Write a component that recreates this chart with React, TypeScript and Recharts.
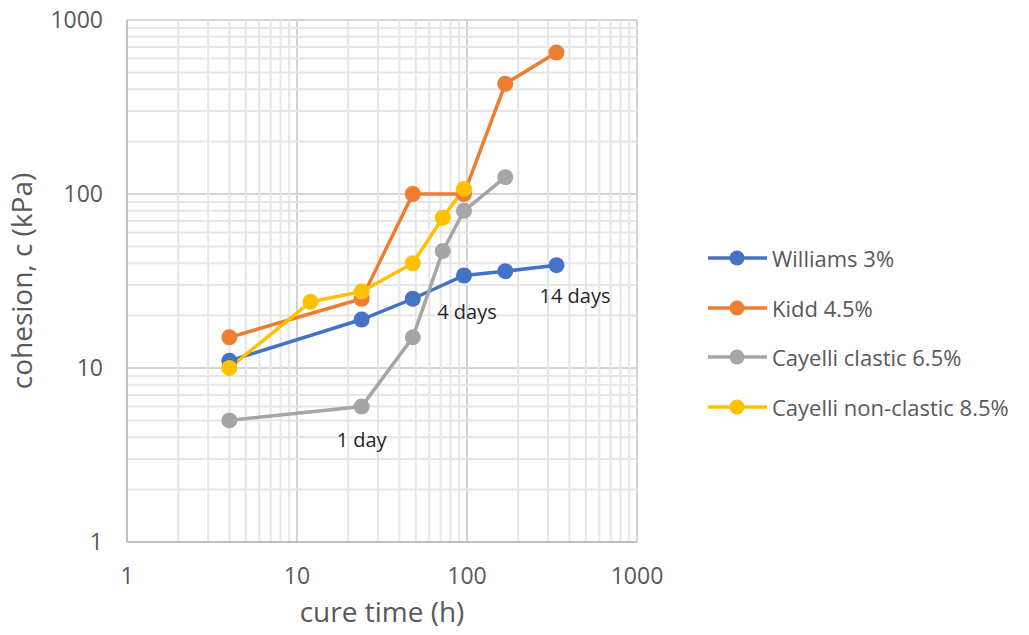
import React from "react";
import {
  LineChart,
  Line,
  XAxis,
  YAxis,
  CartesianGrid,
  ReferenceLine,
  ReferenceDot,
  Label,
} from "recharts";

const majorTicks = [1, 10, 100, 1000];
const minorTicks = [2, 3, 4, 5, 6, 7, 8, 9, 20, 30, 40, 50, 60, 70, 80, 90, 200, 300, 400, 500, 600, 700, 800, 900];

const williamsHours = [4, 24, 48, 96, 168, 336];
const williamsCohesion = [11, 19, 25, 34, 36, 39];

const kiddHours = [4, 24, 48, 96, 168, 336];
const kiddCohesion = [15, 25, 100, 100, 430, 650];

const clasticHours = [4, 24, 48, 72, 96, 168];
const clasticCohesion = [5, 6, 15, 47, 80, 125];

const nonClasticHours = [4, 12, 24, 48, 72, 96];
const nonClasticCohesion = [10, 24, 27.5, 40, 73, 107];

const seriesNames = ["Williams 3%", "Kidd 4.5%", "Cayelli clastic 6.5%", "Cayelli non-clastic 8.5%"];
const seriesColors = ["#4472C4", "#ED7D31", "#A5A5A5", "#FFC000"];

const notes = ["1 day", "4 days", "14 days"];
const noteHours = [24, 100, 432];
const noteCohesion = [3.86, 21, 25.9];

const zip = (xs: number[], ys: number[]) => xs.map((h, i) => ({ hours: h, cohesion: ys[i] }));

const series = [
  zip(williamsHours, williamsCohesion),
  zip(kiddHours, kiddCohesion),
  zip(clasticHours, clasticCohesion),
  zip(nonClasticHours, nonClasticCohesion),
];

const FONT = "'Open Sans', sans-serif";
const GREY_TEXT = "#595959";

export default function App() {
  return (
    <div style={{ position: "absolute", left: 0, top: 0, width: 1029, height: 635, background: "#fff", fontFamily: FONT }}>
      <LineChart width={1029} height={635} margin={{ top: 20, right: 392, left: 0, bottom: 0 }}>
        {minorTicks.map((t) => (
          <ReferenceLine key={"vx" + t} x={t} stroke="#e6e6e6" strokeWidth={2} />
        ))}
        {minorTicks.map((t) => (
          <ReferenceLine key={"hy" + t} y={t} stroke="#e6e6e6" strokeWidth={2} />
        ))}
        <CartesianGrid stroke="#d4d4d4" strokeWidth={2} />
        <XAxis
          dataKey="hours"
          type="number"
          scale="log"
          domain={[1, 1000]}
          ticks={majorTicks}
          allowDataOverflow
          axisLine={{ stroke: "#bfbfbf", strokeWidth: 2 }}
          tickLine={false}
          tickSize={0}
          tickMargin={26}
          height={93}
          tick={{ fontSize: 23, fill: GREY_TEXT, fontFamily: FONT }}
        >
          <Label
            content={({ viewBox }: any) => (
              <text
                x={viewBox.x + viewBox.width / 2}
                y={viewBox.y + 80}
                textAnchor="middle"
                fontSize={28}
                fill={GREY_TEXT}
                fontFamily={FONT}
              >
                cure time (h)
              </text>
            )}
          />
        </XAxis>
        <YAxis
          dataKey="cohesion"
          type="number"
          scale="log"
          domain={[1, 1000]}
          ticks={majorTicks}
          allowDataOverflow
          axisLine={{ stroke: "#bfbfbf", strokeWidth: 2 }}
          tickLine={false}
          tickSize={0}
          tickMargin={24}
          width={127}
          tick={{ fontSize: 23, fill: GREY_TEXT, fontFamily: FONT }}
        >
          <Label
            content={({ viewBox }: any) => {
              const cx = viewBox.x + 32;
              const cy = viewBox.y + viewBox.height / 2;
              return (
                <text
                  x={cx}
                  y={cy}
                  transform={`rotate(-90 ${cx} ${cy})`}
                  textAnchor="middle"
                  fontSize={28}
                  fill={GREY_TEXT}
                  fontFamily={FONT}
                >
                  cohesion, c (kPa)
                </text>
              );
            }}
          />
        </YAxis>
        {series.map((data, i) => (
          <Line
            key={seriesNames[i]}
            data={data}
            dataKey="cohesion"
            name={seriesNames[i]}
            type="linear"
            stroke={seriesColors[i]}
            strokeWidth={3.5}
            dot={{ r: 8, fill: seriesColors[i], stroke: seriesColors[i], strokeWidth: 0 }}
            isAnimationActive={false}
          />
        ))}
        {notes.map((n, i) => (
          <ReferenceDot
            key={n}
            x={noteHours[i]}
            y={noteCohesion[i]}
            r={0}
            stroke="none"
            label={{ value: n, position: "center", fontSize: 20, fill: "#262626", fontFamily: FONT }}
          />
        ))}
      </LineChart>
      <div style={{ position: "absolute", left: 706, top: 233 }}>
        {seriesNames.map((name, i) => (
          <div key={name} style={{ display: "flex", alignItems: "center", height: 49.7 }}>
            <svg width={62} height={28}>
              <line x1={2} y1={14} x2={61} y2={14} stroke={seriesColors[i]} strokeWidth={3.5} />
              <circle cx={31} cy={14} r={7.5} fill={seriesColors[i]} />
            </svg>
            <span style={{ fontSize: 22, color: GREY_TEXT, marginLeft: 4, lineHeight: "28px" }}>{name}</span>
          </div>
        ))}
      </div>
    </div>
  );
}
